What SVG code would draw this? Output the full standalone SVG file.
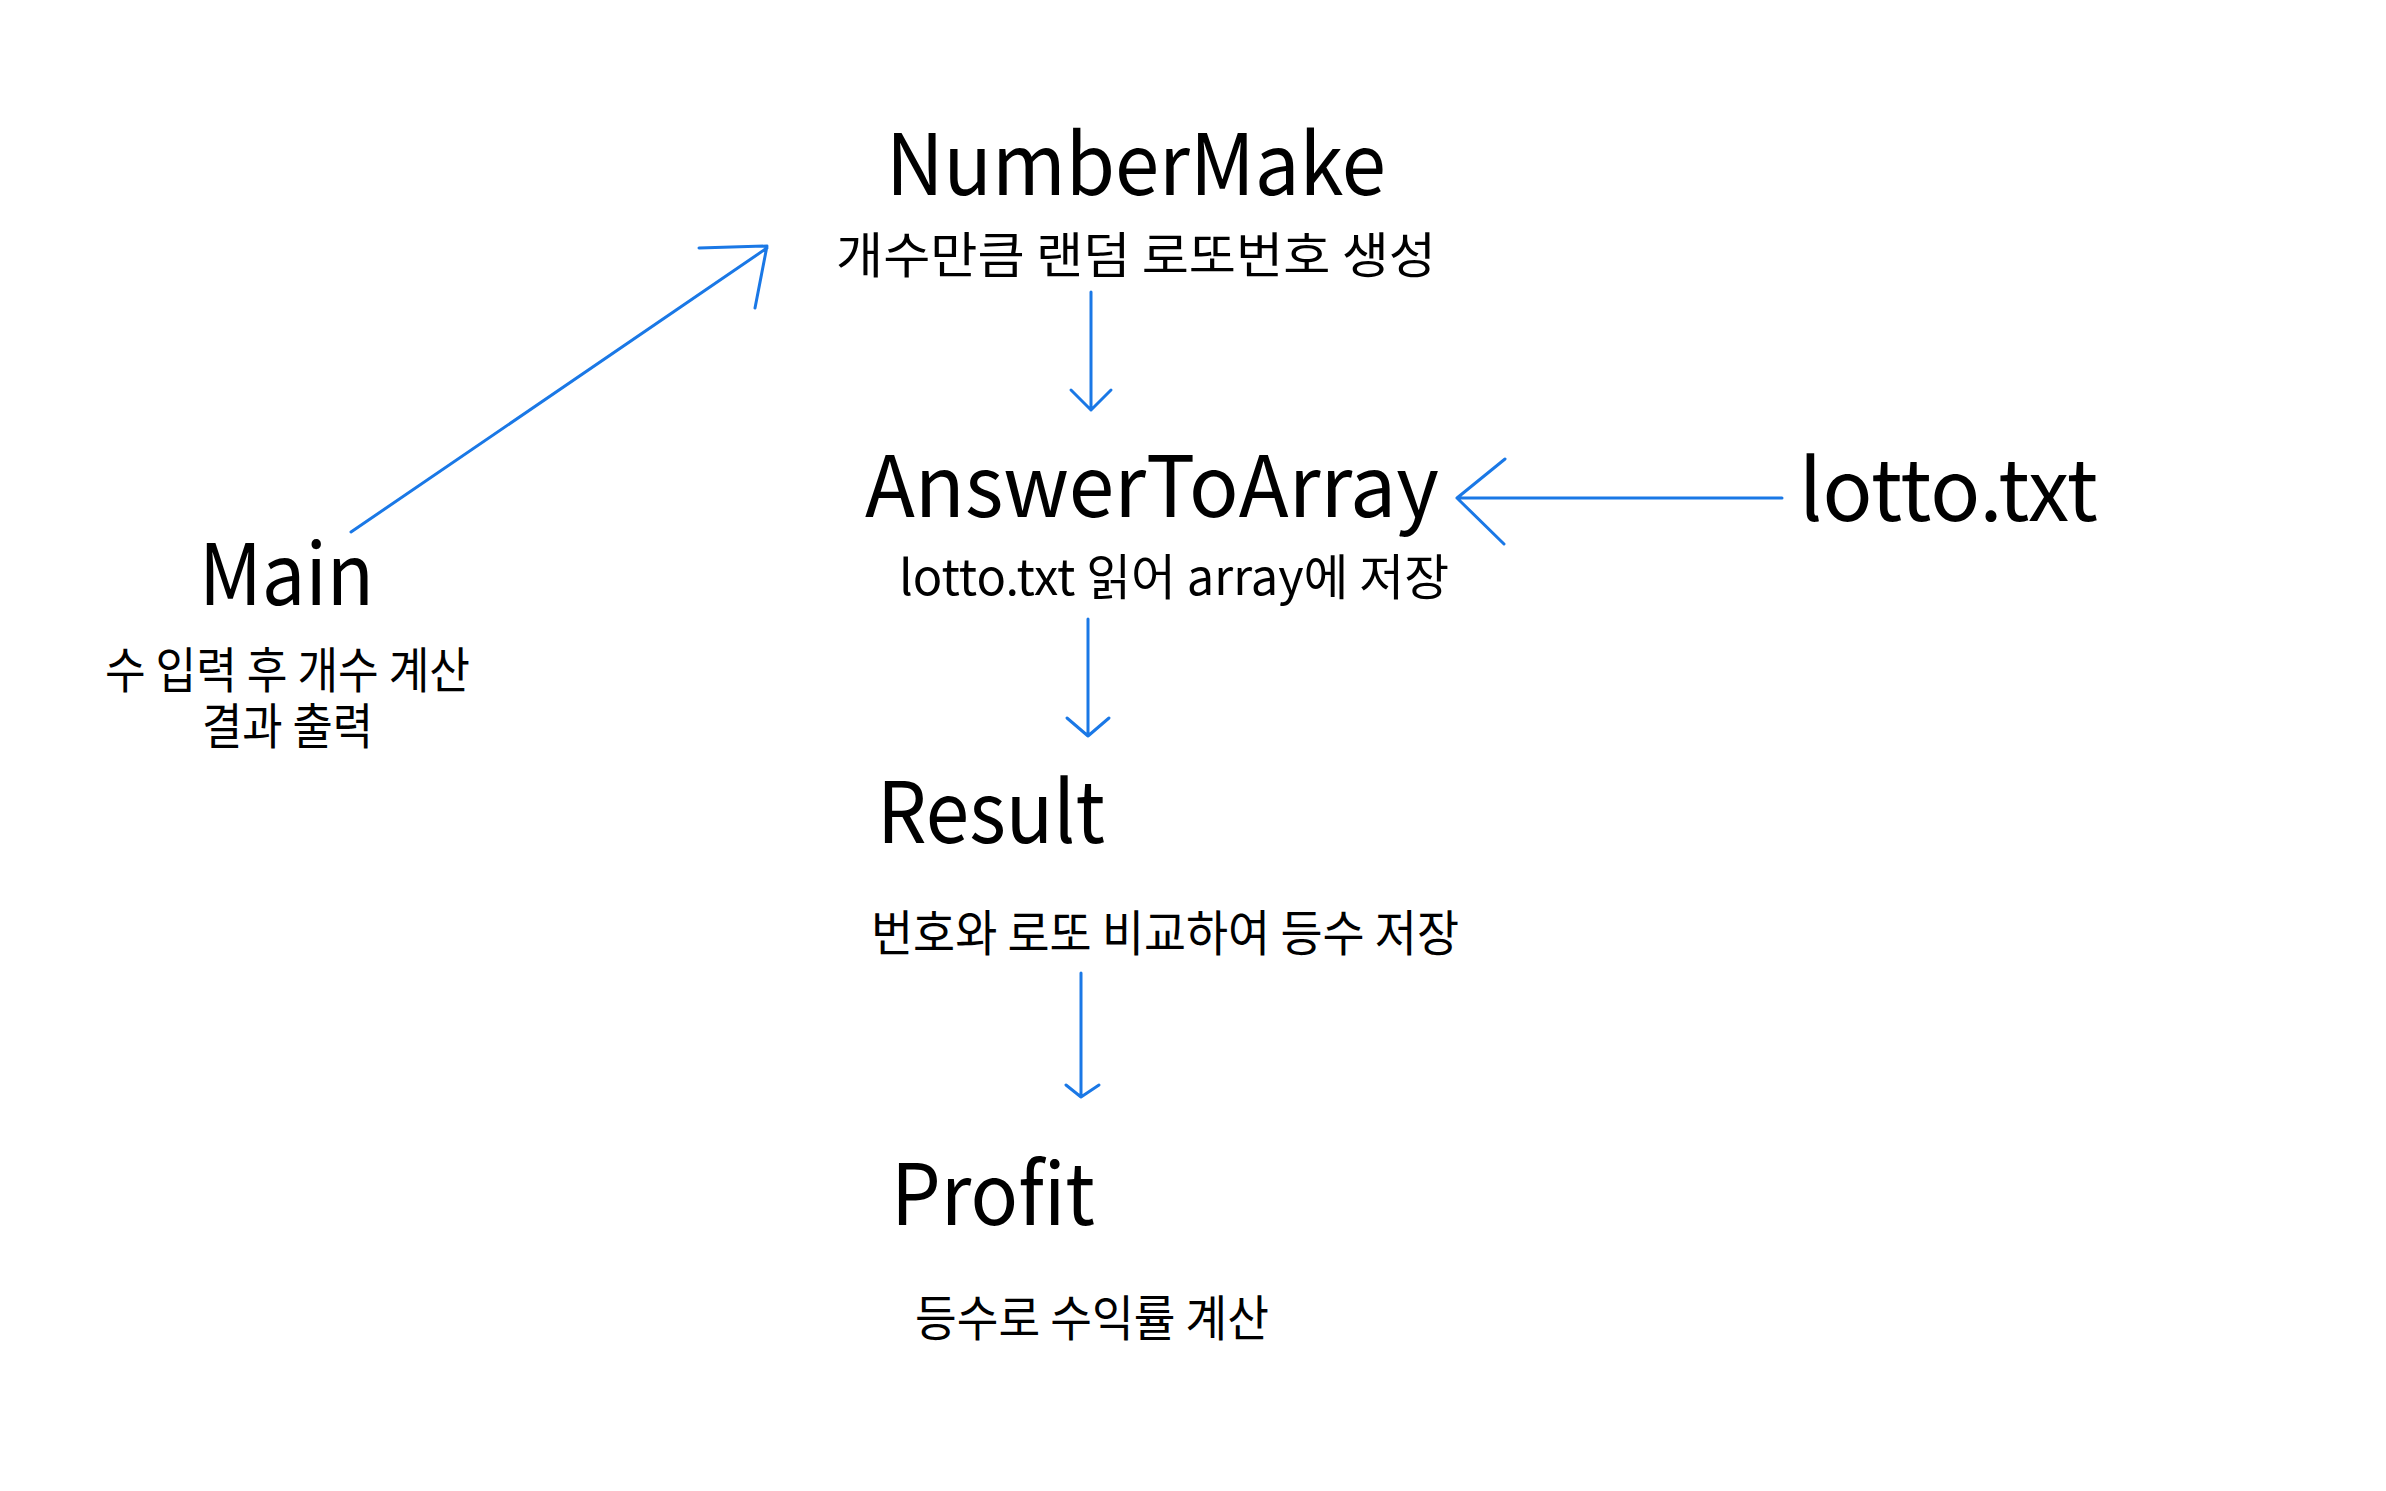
<svg xmlns="http://www.w3.org/2000/svg" width="2386" height="1491" viewBox="0 0 2386 1491">
<style>
text{font-family:"Noto Sans CJK KR","Noto Sans",sans-serif;fill:#000}
.t{font-size:85px}
.s{font-size:49px}
.c{stroke:#1a78e6;stroke-width:3;fill:none;stroke-linecap:round;stroke-linejoin:round}
</style>
<rect width="2386" height="1491" fill="#fff"/>
<g id="NumberMake">
<text class="t" x="886" y="195" textLength="500" lengthAdjust="spacingAndGlyphs">NumberMake</text>
<text class="s" x="836" y="273" textLength="600" lengthAdjust="spacingAndGlyphs">개수만큼 랜덤 로또번호 생성</text>
</g>
<g id="AnswerToArray">
<text class="t" x="865" y="517" textLength="574" lengthAdjust="spacingAndGlyphs">AnswerToArray</text>
<text class="s" x="899" y="595" textLength="550" lengthAdjust="spacingAndGlyphs">lotto.txt 읽어 array에 저장</text>
</g>
<g id="lotto">
<text class="t" x="1799" y="521" textLength="299" lengthAdjust="spacingAndGlyphs">lotto.txt</text>
</g>
<g id="Result">
<text class="t" x="877" y="843" textLength="228" lengthAdjust="spacingAndGlyphs">Result</text>
<text class="s" x="871" y="951" textLength="588" lengthAdjust="spacingAndGlyphs">번호와 로또 비교하여 등수 저장</text>
</g>
<g id="Profit">
<text class="t" x="891" y="1225" textLength="204" lengthAdjust="spacingAndGlyphs">Profit</text>
<text class="s" x="915" y="1336" textLength="354" lengthAdjust="spacingAndGlyphs">등수로 수익률 계산</text>
</g>
<g id="Main">
<text class="t" x="199" y="605" textLength="175" lengthAdjust="spacingAndGlyphs">Main</text>
<text class="s" x="105" y="688" textLength="365" lengthAdjust="spacingAndGlyphs">수 입력 후 개수 계산</text>
<text class="s" x="202" y="744" textLength="171" lengthAdjust="spacingAndGlyphs">결과 출력</text>
</g>
<g id="connectors">
<path class="c" d="M351 532 L767 248 M699 248 L767 246 L755 308"/>
<path class="c" d="M1091 292 L1091 410 M1071 390 L1091 410 L1111 390"/>
<path class="c" d="M1782 498 L1457 498 M1505 459 L1457 498 L1504 544"/>
<path class="c" d="M1088 619 L1088 736 M1067 718 L1088 736 L1109 718"/>
<path class="c" d="M1081 973 L1081 1097 M1066 1085 L1081 1097 L1099 1085"/>
</g>
</svg>
